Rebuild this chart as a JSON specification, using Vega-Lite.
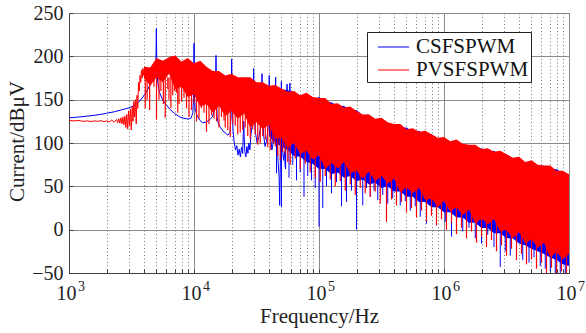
{
  "$schema": "https://vega.github.io/schema/vega-lite/v6.json",
  "width": 500,
  "height": 260,
  "autosize": {"type": "none"},
  "padding": {"left": 69, "top": 13, "right": 17, "bottom": 60},
  "background": "white",
  "config": {
    "font": "Liberation Serif",
    "view": {"stroke": "#404040", "strokeWidth": 1},
    "axis": {"domainColor": "#404040", "tickColor": "#404040", "labelColor": "#222222", "titleColor": "#222222", "labelFont": "Liberation Serif", "titleFont": "Liberation Serif", "labelFontSize": 20, "titleFontSize": 21, "titleFontWeight": "normal"},
    "legend": {"labelFont": "Liberation Serif"}
  },
  "datasets": {
    "bl": [
      {"f":1000,"y":129},{"f":1200,"y":130},{"f":1500,"y":131.5},{"f":1800,"y":133},{"f":2000,"y":134.3},{"f":2300,"y":136},{"f":2600,"y":138},{"f":3000,"y":140.5},{"f":3300,"y":143},{"f":3600,"y":147},{"f":3900,"y":153},{"f":4200,"y":160},{"f":4450,"y":167},{"f":4650,"y":173},{"f":4800,"y":178},{"f":4900,"y":184},{"f":4960,"y":195},{"f":5000,"y":232},{"f":5040,"y":195},{"f":5100,"y":175},{"f":5200,"y":163},{"f":5350,"y":157},{"f":5600,"y":150},{"f":6000,"y":144},{"f":6400,"y":139},{"f":7000,"y":134},{"f":7700,"y":130},{"f":8300,"y":128.5},{"f":9000,"y":127.6},{"f":9500,"y":129},{"f":9800,"y":135},{"f":9950,"y":160},{"f":10000,"y":215},{"f":10050,"y":160},{"f":10200,"y":140},{"f":10600,"y":131},{"f":11100,"y":126.5},{"f":11700,"y":123.4},{"f":12500,"y":124},{"f":13300,"y":127},{"f":14000,"y":130},{"f":14600,"y":138},{"f":14900,"y":160},{"f":15000,"y":201},{"f":15100,"y":160},{"f":15300,"y":130},{"f":15700,"y":122},{"f":16300,"y":118},{"f":17000,"y":114},{"f":18000,"y":111},{"f":18700,"y":109},{"f":19400,"y":112},{"f":19800,"y":130},{"f":20000,"y":197},{"f":20200,"y":150},{"f":20500,"y":115},{"f":21000,"y":100},{"f":21500,"y":92},{"f":22000,"y":97},{"f":22500,"y":86},{"f":23000,"y":93},{"f":23500,"y":84},{"f":24000,"y":95},{"f":24500,"y":88},{"f":24800,"y":110},{"f":25000,"y":125},{"f":25200,"y":108},{"f":25500,"y":90},{"f":26000,"y":84},{"f":26500,"y":96},{"f":27000,"y":88},{"f":27500,"y":100},{"f":28000,"y":92},{"f":28500,"y":108},{"f":29000,"y":118},{"f":29500,"y":140},{"f":30000,"y":186},{"f":30500,"y":130},{"f":31000,"y":112},{"f":32000,"y":100},{"f":33000,"y":106},{"f":34000,"y":118},{"f":34700,"y":140},{"f":35000,"y":180},{"f":35300,"y":140},{"f":36000,"y":110},{"f":37000,"y":96},{"f":38000,"y":102},{"f":39000,"y":115},{"f":39700,"y":140},{"f":40000,"y":178},{"f":40300,"y":138},{"f":41000,"y":108},{"f":42000,"y":92},{"f":43000,"y":100},{"f":44000,"y":120},{"f":44700,"y":145},{"f":45000,"y":176},{"f":45300,"y":140},{"f":46000,"y":105},{"f":47000,"y":80},{"f":48000,"y":60},{"f":48500,"y":28},{"f":49000,"y":70},{"f":49700,"y":130},{"f":50000,"y":171},{"f":50300,"y":130},{"f":51000,"y":95},{"f":52000,"y":80},{"f":53000,"y":90},{"f":54000,"y":70},{"f":55000,"y":150},{"f":55500,"y":168},{"f":56000,"y":120},{"f":57000,"y":130},{"f":58000,"y":150},{"f":58500,"y":169},{"f":59000,"y":130},{"f":60000,"y":140}
    ],
    "rl": [
      {"f":1000,"y":126},{"f":1100,"y":125.5},{"f":1200,"y":126},{"f":1300,"y":125},{"f":1400,"y":125.5},{"f":1500,"y":124.8},{"f":1600,"y":125.5},{"f":1700,"y":125},{"f":1800,"y":125.8},{"f":1900,"y":124.6},{"f":2000,"y":125.5},{"f":2100,"y":124.5},{"f":2200,"y":126.5},{"f":2300,"y":124},{"f":2400,"y":127},{"f":2450,"y":123.5},{"f":2500,"y":128},{"f":2550,"y":123},{"f":2600,"y":129},{"f":2650,"y":122},{"f":2700,"y":130},{"f":2750,"y":121},{"f":2800,"y":131},{"f":2850,"y":118},{"f":2900,"y":133},{"f":2950,"y":116},{"f":3000,"y":137},{"f":3050,"y":120},{"f":3100,"y":139},{"f":3150,"y":115},{"f":3200,"y":142},{"f":3250,"y":125},{"f":3300,"y":148},{"f":3350,"y":130},{"f":3400,"y":150},{"f":3450,"y":122},{"f":3500,"y":155},{"f":3550,"y":140},{"f":3600,"y":170},{"f":3650,"y":160},{"f":3700,"y":178},{"f":3750,"y":170},{"f":3800,"y":184},{"f":3850,"y":175},{"f":3900,"y":186},{"f":3950,"y":178},{"f":3981,"y":186}
    ],
    "rb": [
      {"f":3981,"y":188,"y2":175},{"f":4467,"y":187,"y2":166},{"f":5012,"y":198,"y2":176},{"f":5623,"y":195,"y2":170},{"f":6310,"y":199,"y2":180},{"f":7079,"y":201,"y2":162},{"f":7943,"y":194,"y2":165},{"f":8913,"y":198,"y2":153},{"f":10000,"y":192,"y2":156},{"f":11220,"y":195,"y2":142},{"f":12589,"y":188,"y2":145},{"f":14125,"y":183,"y2":135},{"f":15849,"y":183,"y2":143},{"f":17783,"y":178,"y2":131},{"f":19953,"y":180,"y2":137},{"f":22387,"y":176,"y2":128},{"f":25119,"y":176,"y2":134},{"f":28184,"y":176,"y2":118},{"f":31623,"y":170,"y2":124},{"f":35481,"y":170,"y2":116},{"f":39811,"y":166,"y2":121},{"f":44668,"y":167,"y2":105},{"f":50119,"y":163,"y2":106},{"f":56234,"y":159,"y2":94},{"f":63096,"y":160,"y2":100},{"f":70795,"y":155,"y2":87},{"f":79433,"y":158,"y2":91},{"f":89125,"y":153,"y2":81},{"f":100000,"y":152,"y2":86},{"f":112202,"y":152,"y2":70},{"f":125893,"y":145,"y2":77},{"f":141254,"y":146,"y2":71},{"f":158489,"y":141,"y2":78},{"f":177828,"y":142,"y2":65},{"f":199526,"y":137,"y2":68},{"f":223872,"y":133,"y2":59},{"f":251189,"y":133,"y2":67},{"f":281838,"y":128,"y2":56},{"f":316228,"y":129,"y2":62},{"f":354813,"y":124,"y2":53},{"f":398107,"y":122,"y2":59},{"f":446684,"y":122,"y2":43},{"f":501187,"y":116,"y2":49},{"f":562341,"y":117,"y2":42},{"f":630957,"y":113,"y2":48},{"f":707946,"y":114,"y2":34},{"f":794328,"y":110,"y2":36},{"f":891251,"y":106,"y2":26},{"f":1000000,"y":107,"y2":33},{"f":1122018,"y":102,"y2":21},{"f":1258925,"y":104,"y2":26},{"f":1412538,"y":99,"y2":17},{"f":1584893,"y":98,"y2":23},{"f":1778279,"y":98,"y2":7},{"f":1995262,"y":93,"y2":13},{"f":2238721,"y":94,"y2":6},{"f":2511886,"y":90,"y2":12},{"f":2818383,"y":91,"y2":-2},{"f":3162278,"y":87,"y2":0},{"f":3548134,"y":83,"y2":-10},{"f":3981072,"y":84,"y2":-3},{"f":4466836,"y":78,"y2":-16},{"f":5011872,"y":80,"y2":-11},{"f":5623413,"y":75,"y2":-21},{"f":6309573,"y":74,"y2":-15},{"f":7079458,"y":74,"y2":-32},{"f":7943282,"y":68,"y2":-26},{"f":8912509,"y":68,"y2":-34},{"f":10000000,"y":64,"y2":-28}
    ],
    "bb": [
      {"f":39811,"y":163,"y2":108},{"f":44668,"y":166,"y2":100},{"f":50119,"y":162,"y2":96},{"f":56234,"y":161,"y2":92},{"f":63096,"y":159,"y2":85},{"f":70795,"y":154,"y2":84},{"f":79433,"y":157,"y2":78},{"f":89125,"y":150,"y2":76},{"f":100000,"y":153,"y2":70},{"f":112202,"y":147,"y2":70},{"f":125893,"y":147,"y2":64},{"f":141254,"y":142,"y2":66},{"f":158489,"y":143,"y2":60},{"f":177828,"y":137,"y2":62},{"f":199526,"y":138,"y2":56},{"f":223872,"y":132,"y2":58},{"f":251189,"y":133,"y2":52},{"f":281838,"y":126,"y2":54},{"f":316228,"y":128,"y2":48},{"f":354813,"y":122,"y2":50},{"f":398107,"y":122,"y2":44},{"f":446684,"y":117,"y2":44},{"f":501187,"y":118,"y2":38},{"f":562341,"y":113,"y2":38},{"f":630957,"y":114,"y2":32},{"f":707946,"y":109,"y2":32},{"f":794328,"y":110,"y2":26},{"f":891251,"y":105,"y2":26},{"f":1000000,"y":106,"y2":20},{"f":1122018,"y":101,"y2":20},{"f":1258925,"y":102,"y2":14},{"f":1412538,"y":97,"y2":14},{"f":1584893,"y":98,"y2":8},{"f":1778279,"y":93,"y2":8},{"f":1995262,"y":94,"y2":2},{"f":2238721,"y":90,"y2":2},{"f":2511886,"y":91,"y2":-4},{"f":2818383,"y":86,"y2":-4},{"f":3162278,"y":87,"y2":-10},{"f":3548134,"y":82,"y2":-10},{"f":3981072,"y":83,"y2":-16},{"f":4466836,"y":77,"y2":-18},{"f":5011872,"y":78,"y2":-22},{"f":5623413,"y":73,"y2":-25},{"f":6309573,"y":74,"y2":-28},{"f":7079458,"y":69,"y2":-32},{"f":7943282,"y":70,"y2":-35},{"f":8912509,"y":65,"y2":-40},{"f":10000000,"y":64,"y2":-42}
    ],
    "rs": [
      {"f":4074,"y":176,"y2":140},{"f":4217,"y":176,"y2":150},{"f":4416,"y":176,"y2":138},{"f":4786,"y":176,"y2":165},{"f":5012,"y":176,"y2":127},{"f":5248,"y":176,"y2":150},{"f":5433,"y":176,"y2":160},{"f":5689,"y":176,"y2":145},{"f":5888,"y":176,"y2":129},{"f":6166,"y":176,"y2":162},{"f":6310,"y":176,"y2":150},{"f":6531,"y":176,"y2":140},{"f":6761,"y":174,"y2":155},{"f":6998,"y":174,"y2":160},{"f":7244,"y":170,"y2":158},{"f":7413,"y":170,"y2":135},{"f":7586,"y":168,"y2":145},{"f":7943,"y":166,"y2":148},{"f":8318,"y":164,"y2":152},{"f":8710,"y":160,"y2":140},{"f":9120,"y":158,"y2":130},{"f":9550,"y":156,"y2":138},{"f":10000,"y":154,"y2":146},{"f":10471,"y":152,"y2":125},{"f":10965,"y":150,"y2":128},{"f":11482,"y":150,"y2":140},{"f":12023,"y":149,"y2":135},{"f":12589,"y":148,"y2":113},{"f":13183,"y":147,"y2":122},{"f":13804,"y":146,"y2":132},{"f":14454,"y":145,"y2":128},{"f":15136,"y":144,"y2":125},{"f":15849,"y":143,"y2":118},{"f":16596,"y":142,"y2":130},{"f":17378,"y":141,"y2":126},{"f":17783,"y":140,"y2":118},{"f":18621,"y":140,"y2":115},{"f":19498,"y":139,"y2":107},{"f":20417,"y":138,"y2":122},{"f":21380,"y":137,"y2":120},{"f":22387,"y":136,"y2":110},{"f":23442,"y":135,"y2":112},{"f":24547,"y":134,"y2":115},{"f":25704,"y":132,"y2":118},{"f":26915,"y":131,"y2":108},{"f":28184,"y":130,"y2":105},{"f":29512,"y":129,"y2":116},{"f":30903,"y":127,"y2":110},{"f":32359,"y":126,"y2":98},{"f":33884,"y":125,"y2":100},{"f":35481,"y":123,"y2":108},{"f":37154,"y":122,"y2":104},{"f":38905,"y":120,"y2":95},{"f":40738,"y":119,"y2":92},{"f":42658,"y":117,"y2":100},{"f":44668,"y":115,"y2":96},{"f":46774,"y":113,"y2":85},{"f":48978,"y":111,"y2":80},{"f":51286,"y":109,"y2":90},{"f":53703,"y":106,"y2":88},{"f":56234,"y":104,"y2":78},{"f":58884,"y":102,"y2":75},{"f":64565,"y":100,"y2":82},{"f":70795,"y":97,"y2":70},{"f":77625,"y":94,"y2":76},{"f":85114,"y":90,"y2":66},{"f":93325,"y":88,"y2":60},{"f":102329,"y":86,"y2":55},{"f":112202,"y":83,"y2":62},{"f":123027,"y":81,"y2":58},{"f":134896,"y":79,"y2":50},{"f":147911,"y":78,"y2":56},{"f":162181,"y":77,"y2":45},{"f":177828,"y":75,"y2":52},{"f":194984,"y":73,"y2":40},{"f":213796,"y":72,"y2":48},{"f":234423,"y":70,"y2":42},{"f":257040,"y":69,"y2":38},{"f":281838,"y":67,"y2":44},{"f":309030,"y":65,"y2":30},{"f":346737,"y":62,"y2":9},{"f":380189,"y":60,"y2":35},{"f":416869,"y":57,"y2":28},{"f":457088,"y":55,"y2":32},{"f":501187,"y":53,"y2":20},{"f":549541,"y":50,"y2":25},{"f":602560,"y":47,"y2":14},{"f":660693,"y":45,"y2":22},{"f":724436,"y":43,"y2":10},{"f":794328,"y":41,"y2":16},{"f":870964,"y":38,"y2":5},{"f":954993,"y":35,"y2":12},{"f":1047129,"y":33,"y2":0},{"f":1148154,"y":30,"y2":8},{"f":1258925,"y":29,"y2":-5},{"f":1380384,"y":26,"y2":2},{"f":1513561,"y":23,"y2":-10},{"f":1659587,"y":21,"y2":-2},{"f":1819701,"y":18,"y2":-15},{"f":1995262,"y":17,"y2":-8},{"f":2187762,"y":14,"y2":-20},{"f":2398833,"y":11,"y2":-12},{"f":2630268,"y":8,"y2":-25},{"f":2884032,"y":6,"y2":-18},{"f":3162278,"y":5,"y2":-30},{"f":3467369,"y":2,"y2":-22},{"f":3801894,"y":-1,"y2":-35},{"f":4168694,"y":-3,"y2":-28},{"f":4570882,"y":-5,"y2":-40},{"f":5011872,"y":-8,"y2":-34},{"f":5495409,"y":-12,"y2":-45},{"f":6025596,"y":-15,"y2":-38},{"f":6606934,"y":-17,"y2":-50},{"f":7244360,"y":-20,"y2":-44},{"f":7943282,"y":-22,"y2":-50},{"f":8709636,"y":-26,"y2":-48},{"f":9549926,"y":-28,"y2":-50}
    ],
    "bs": [
      {"f":45709,"y":110,"y2":65},{"f":50119,"y":106,"y2":26},{"f":53703,"y":104,"y2":72},{"f":57544,"y":100,"y2":60},{"f":61660,"y":98,"y2":75},{"f":66069,"y":95,"y2":57},{"f":70795,"y":93,"y2":66},{"f":75858,"y":91,"y2":38},{"f":81283,"y":88,"y2":62},{"f":87096,"y":86,"y2":57},{"f":93325,"y":83,"y2":48},{"f":100000,"y":81,"y2":3.5},{"f":107152,"y":79,"y2":25},{"f":114815,"y":78,"y2":50},{"f":125893,"y":76,"y2":42},{"f":138038,"y":74,"y2":55},{"f":151356,"y":73,"y2":27},{"f":165959,"y":71,"y2":32},{"f":181970,"y":70,"y2":45},{"f":199526,"y":68,"y2":0},{"f":223872,"y":66,"y2":28},{"f":239883,"y":65,"y2":48},{"f":257040,"y":64,"y2":38},{"f":275423,"y":63,"y2":45},{"f":295121,"y":61,"y2":34},{"f":323594,"y":59,"y2":40},{"f":354813,"y":57,"y2":30},{"f":389045,"y":55,"y2":36},{"f":446684,"y":51,"y2":28},{"f":489779,"y":49,"y2":33},{"f":537032,"y":46,"y2":22},{"f":588844,"y":44,"y2":27},{"f":645654,"y":41,"y2":15},{"f":724436,"y":38,"y2":7},{"f":794328,"y":36,"y2":20},{"f":870964,"y":33,"y2":5},{"f":1023293,"y":29,"y2":9},{"f":1148154,"y":27,"y2":-8},{"f":1258925,"y":24,"y2":5},{"f":1412538,"y":21,"y2":-2},{"f":1584893,"y":18,"y2":2},{"f":1778279,"y":15,"y2":-10},{"f":1995262,"y":12,"y2":-16},{"f":2238721,"y":9,"y2":-6},{"f":2511886,"y":6,"y2":-20},{"f":2818383,"y":3,"y2":-43},{"f":3090295,"y":1,"y2":-25},{"f":3388442,"y":-2,"y2":-30},{"f":3801894,"y":-5,"y2":-28},{"f":4265795,"y":-9,"y2":-35},{"f":4786301,"y":-12,"y2":-38},{"f":5248075,"y":-14,"y2":-32},{"f":5888437,"y":-18,"y2":-42},{"f":6456542,"y":-21,"y2":-45},{"f":7079458,"y":-24,"y2":-48},{"f":7762471,"y":-27,"y2":-50},{"f":8511380,"y":-30,"y2":-50},{"f":9332543,"y":-33,"y2":-50}
    ],
    "ex": [
      {"f":1000,"y":-50,"e":"3"},{"f":10000,"y":-50,"e":"4"},{"f":100000,"y":-50,"e":"5"},{"f":1000000,"y":-50,"e":"6"},{"f":10000000,"y":-50,"e":"7"}
    ]
  },
  "encoding": {
    "x": {
      "field": "f",
      "type": "quantitative",
      "scale": {"type": "log", "domain": [1000, 10000000], "nice": false},
      "axis": {
        "title": "Frequency/Hz",
        "values": [1000,2000,3000,4000,5000,6000,7000,8000,9000,10000,20000,30000,40000,50000,60000,70000,80000,90000,100000,200000,300000,400000,500000,600000,700000,800000,900000,1000000,2000000,3000000,4000000,5000000,6000000,7000000,8000000,9000000,10000000],
        "labelExpr": "indexof([1000,10000,100000,1000000,10000000], datum.value) >= 0 ? '10' : ''",
        "labelFlush": false,
        "labelOverlap": false,
        "labelPadding": 14,
        "labelOffset": -3,
        "tickSize": -4,
        "grid": true,
        "gridColor": {"condition": {"test": "indexof([1000,10000,100000,1000000,10000000], datum.value) >= 0", "value": "#8a8a8a"}, "value": "#7a7a7a"},
        "gridDash": {"condition": {"test": "indexof([1000,10000,100000,1000000,10000000], datum.value) >= 0", "value": []}, "value": [1, 2.5]},
        "titleBaseline": "alphabetic",
        "titleY": 49
      }
    },
    "y": {
      "field": "y",
      "type": "quantitative",
      "scale": {"domain": [-50, 250], "nice": false},
      "axis": {"title": "Current/dBμV", "values": [-50,0,50,100,150,200,250], "grid": true, "gridColor": "#8a8a8a", "tickSize": -4, "labelPadding": 10, "titleX": -42, "titleY": 128}
    }
  },
  "layer": [
    {
      "data": {"name": "bb"},
      "mark": {"type": "area", "color": "#0000ff", "clip": true},
      "encoding": {"y2": {"field": "y2"}}
    },
    {
      "data": {"name": "bs"},
      "mark": {"type": "rule", "color": "#0000ff", "strokeWidth": 1, "clip": true},
      "encoding": {"y2": {"field": "y2"}}
    },
    {
      "data": {"name": "bl"},
      "mark": {"type": "line", "strokeWidth": 1, "clip": true},
      "encoding": {
        "color": {"datum": "CSFSPWM", "scale": {"domain": ["CSFSPWM", "PVSFSPWM"], "range": ["#0000ff", "#ff0000"]},
          "legend": {"orient": "none", "legendX": 298, "legendY": 19, "title": null, "fillColor": "white", "strokeColor": "#222222", "padding": 2, "symbolType": "M-1.3,0L1.3,0", "symbolSize": 576, "symbolStrokeWidth": 1.2, "symbolOffset": 11.5, "labelOffset": 9.5, "labelFontSize": 21, "labelFont": "Liberation Serif", "labelColor": "#111111", "rowPadding": 0, "labelExpr": "datum.label + '\u2002\u2005'"}}
      }
    },
    {
      "data": {"name": "rb"},
      "mark": {"type": "area", "color": "#ff0000", "clip": true},
      "encoding": {"y2": {"field": "y2"}}
    },
    {
      "data": {"name": "rs"},
      "mark": {"type": "rule", "color": "#ff0000", "strokeWidth": 1.2, "clip": true},
      "encoding": {"y2": {"field": "y2"}}
    },
    {
      "data": {"name": "rl"},
      "mark": {"type": "line", "strokeWidth": 1, "clip": true},
      "encoding": {"color": {"datum": "PVSFSPWM"}}
    },
    {
      "data": {"name": "ex"},
      "mark": {"type": "text", "font": "Liberation Serif", "fontSize": 14, "color": "#222222", "align": "left", "baseline": "alphabetic", "dx": 9, "dy": 18},
      "encoding": {"text": {"field": "e"}}
    }
  ]
}
